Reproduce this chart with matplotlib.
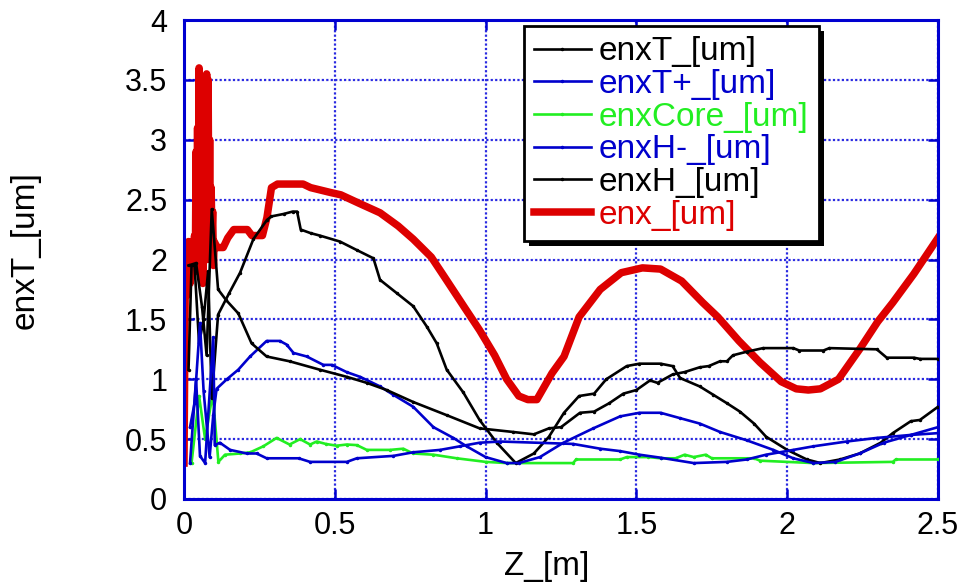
import matplotlib
matplotlib.use("Agg")
import matplotlib.pyplot as plt
from matplotlib.patches import Rectangle
from matplotlib.transforms import IdentityTransform

plt.rcParams['font.family'] = ['Liberation Sans', 'DejaVu Sans']

# ---------------- data ----------------
enx_z = [0.0, 0.004, 0.01, 0.015, 0.02, 0.025, 0.03, 0.035, 0.0375, 0.04, 0.0425,
         0.045, 0.0475, 0.05, 0.0525, 0.055, 0.0575, 0.06, 0.0625, 0.065, 0.0675,
         0.07, 0.0725, 0.075, 0.0775, 0.08, 0.0825, 0.085, 0.0875, 0.09, 0.0925,
         0.095, 0.0975, 0.10, 0.11, 0.13, 0.145,
         0.165, 0.21, 0.225, 0.26, 0.275, 0.29, 0.31, 0.395, 0.42, 0.485, 0.52, 0.58,
         0.65, 0.71, 0.76, 0.82, 0.87, 0.93, 0.98, 1.03, 1.07, 1.11, 1.14, 1.17, 1.22,
         1.26, 1.31, 1.38, 1.45, 1.52, 1.58, 1.65, 1.72, 1.77, 1.84, 1.91, 1.98, 2.03,
         2.07, 2.11, 2.17, 2.24, 2.3, 2.35, 2.42, 2.5]
enx_v = [0.3, 1.75, 1.7, 2.15, 1.8, 2.15, 1.9, 2.2, 1.9, 2.9, 2.0, 3.1, 2.1, 3.6,
         2.0, 3.4, 1.85, 3.0, 1.8, 3.2, 2.0, 2.8, 2.1, 3.55, 2.0, 3.5, 2.1, 3.0,
         2.0, 2.6, 2.2, 2.4, 1.95, 2.15, 2.1, 2.1, 2.18,
         2.25, 2.25, 2.2, 2.2,
         2.35, 2.6, 2.63, 2.63, 2.6, 2.56, 2.54, 2.47, 2.39, 2.28, 2.17, 2.02, 1.83,
         1.6, 1.41, 1.2, 1.0, 0.86, 0.83, 0.83, 1.05, 1.19, 1.52, 1.75, 1.89, 1.93,
         1.92, 1.82, 1.64, 1.52, 1.32, 1.14, 0.98, 0.92, 0.91, 0.92, 1.0, 1.25, 1.48,
         1.64, 1.88, 2.18]

enxT_z = [0.015, 0.025, 0.035, 0.05, 0.065, 0.08, 0.092, 0.113, 0.15, 0.186, 0.23,
          0.275, 0.29, 0.33, 0.36, 0.375, 0.387, 0.42, 0.45, 0.517, 0.572, 0.628, 0.65,
          0.705, 0.76, 0.805, 0.838, 0.871, 0.926, 0.98, 1.037, 1.10, 1.16, 1.21, 1.26,
          1.31, 1.36, 1.40, 1.468, 1.51, 1.58, 1.62, 1.645, 1.71, 1.755, 1.80, 1.843,
          1.89, 1.93, 2.0, 2.065, 2.11, 2.175, 2.24, 2.31, 2.35, 2.41, 2.44, 2.5]
enxT_v = [1.08, 1.95, 1.95, 1.3, 1.5, 1.9, 0.84, 1.54, 1.72, 1.89, 2.17, 2.33, 2.36,
          2.38, 2.4, 2.4, 2.25, 2.22, 2.2, 2.15, 2.08, 2.01, 1.83, 1.72, 1.61, 1.44,
          1.30, 1.08, 0.89, 0.66, 0.47, 0.30, 0.38, 0.52, 0.72, 0.86, 0.88, 1.0, 1.11,
          1.13, 1.13, 1.11, 1.01, 0.94, 0.87, 0.80, 0.73, 0.63, 0.52, 0.41, 0.33, 0.30,
          0.33, 0.38, 0.47, 0.55, 0.65, 0.66, 0.77]

enxTp_z = [0.02, 0.035, 0.053, 0.065, 0.085, 0.097, 0.108, 0.142, 0.18, 0.219, 0.274,
           0.318, 0.34, 0.363, 0.407, 0.462, 0.49, 0.539, 0.584, 0.65, 0.694, 0.76,
           0.827, 0.893, 0.937, 1.0, 1.07, 1.11, 1.18, 1.258, 1.357, 1.446, 1.51, 1.58,
           1.645, 1.71, 1.777, 1.866, 1.954, 2.02, 2.087, 2.16, 2.24, 2.32, 2.41, 2.5]
enxTp_v = [0.6, 0.8, 1.47, 0.9, 0.35, 0.7, 0.92, 1.0, 1.08, 1.19, 1.32, 1.32, 1.29,
           1.22, 1.19, 1.12, 1.12, 1.06, 1.02, 0.94, 0.87, 0.77, 0.60, 0.51, 0.44,
           0.35, 0.30, 0.30, 0.35, 0.47, 0.59, 0.69, 0.72, 0.72, 0.675, 0.63, 0.56,
           0.49, 0.41, 0.34, 0.30, 0.31, 0.38, 0.47, 0.535, 0.60]

enxCore_z = [0.025, 0.05, 0.07, 0.095, 0.114, 0.136, 0.186, 0.22, 0.263, 0.307, 0.35,
             0.385, 0.418, 0.44, 0.47, 0.506, 0.54, 0.573, 0.606, 0.683, 0.727, 0.76,
             0.827, 0.904, 1.0, 1.07, 1.29, 1.30, 1.446, 1.468, 1.54, 1.58, 1.63, 1.66,
             1.69, 1.73, 1.75, 1.89, 1.91, 2.087, 2.35, 2.36, 2.5]
enxCore_v = [0.30, 0.86, 0.5, 0.88, 0.31, 0.37, 0.38, 0.39, 0.44, 0.51, 0.455, 0.50,
             0.455, 0.48, 0.46, 0.445, 0.455, 0.45, 0.41, 0.41, 0.42, 0.38, 0.37, 0.34,
             0.31, 0.30, 0.30, 0.33, 0.33, 0.35, 0.35, 0.34, 0.34, 0.37, 0.35, 0.37,
             0.34, 0.34, 0.32, 0.30, 0.31, 0.33, 0.33]

enxHm_z = [0.02, 0.04, 0.053, 0.07, 0.097, 0.102, 0.119, 0.153, 0.208, 0.241, 0.274,
           0.38, 0.418, 0.54, 0.573, 0.694, 0.76, 0.849, 0.915, 0.98, 1.048, 1.29,
           1.38, 1.446, 1.51, 1.58, 1.69, 1.8, 1.866, 1.93, 2.02, 2.087, 2.197, 2.297,
           2.41, 2.5]
enxHm_v = [0.3, 1.0, 0.36, 0.3, 1.35, 0.45, 0.47, 0.41, 0.38, 0.38, 0.34, 0.34, 0.31,
           0.31, 0.34, 0.36, 0.39, 0.41, 0.44, 0.47, 0.48, 0.46, 0.42, 0.40, 0.37,
           0.345, 0.30, 0.31, 0.33, 0.37, 0.41, 0.44, 0.48, 0.51, 0.535, 0.55]

enxH_z = [0.015, 0.04, 0.06, 0.075, 0.092, 0.113, 0.14, 0.18, 0.224, 0.274, 0.35, 0.45,
          0.54, 0.606, 0.672, 0.76, 0.871, 0.98, 1.09, 1.16, 1.21, 1.25, 1.313, 1.36,
          1.41, 1.457, 1.50, 1.545, 1.57, 1.62, 1.66, 1.71, 1.74, 1.777, 1.80, 1.82,
          1.866, 1.92, 2.02, 2.04, 2.12, 2.14, 2.297, 2.33, 2.42, 2.44, 2.5]
enxH_v = [1.95, 1.97, 1.6, 1.2, 2.42, 1.75, 1.66, 1.55, 1.30, 1.19, 1.15, 1.08, 1.02,
          0.97, 0.91, 0.81, 0.70, 0.59, 0.56, 0.54, 0.59, 0.60, 0.72, 0.73, 0.80, 0.88,
          0.91, 0.99, 0.97, 1.04, 1.06, 1.10, 1.11, 1.15, 1.15, 1.20, 1.23, 1.26, 1.26,
          1.24, 1.24, 1.26, 1.25, 1.18, 1.18, 1.17, 1.17]

x_ticks = [0, 0.5, 1, 1.5, 2, 2.5]
x_tick_labels = ['0', '0.5', '1', '1.5', '2', '2.5']
y_ticks = [0, 0.5, 1, 1.5, 2, 2.5, 3, 3.5, 4]
y_tick_labels = ['0', '0.5', '1', '1.5', '2', '2.5', '3', '3.5', '4']

# ---------------- styles ----------------
BLACK = '#000000'
BLUE = '#0000cc'
GREEN = '#22ee22'
RED = '#dd0000'
AXBLUE = '#0000d0'

fig = plt.figure(figsize=(9.63, 5.87), dpi=100)
ax = fig.add_axes([184/963, 88/587, 754/963, 479/587])

lw = 1.9
ax.plot(enx_z, enx_v, color=RED, lw=5.4, marker='.', ms=2, label='enx_[um]', zorder=2)
ax.plot(enxT_z, enxT_v, color=BLACK, lw=lw, marker='.', ms=3, label='enxT_[um]', zorder=4)
ax.plot(enxTp_z, enxTp_v, color=BLUE, lw=lw, marker='.', ms=3, label='enxT+_[um]', zorder=4)
ax.plot(enxCore_z, enxCore_v, color=GREEN, lw=lw, marker='.', ms=3, label='enxCore_[um]', zorder=3)
ax.plot(enxHm_z, enxHm_v, color=BLUE, lw=lw, marker='.', ms=3, label='enxH-_[um]', zorder=4)
ax.plot(enxH_z, enxH_v, color=BLACK, lw=lw, marker='.', ms=3, label='enxH_[um]', zorder=4)

ax.set_xlim(0, 2.5)
ax.set_ylim(0, 4)
ax.set_xticks(x_ticks)
ax.set_xticklabels(x_tick_labels)
ax.set_yticks(y_ticks)
ax.set_yticklabels(y_tick_labels)

ax.grid(True, color='#2a2ae0', lw=1.6, linestyle=(0, (1, 1)), zorder=1)
ax.set_axisbelow(True)
for s in ax.spines.values():
    s.set_color(AXBLUE)
    s.set_linewidth(2.2)
ax.tick_params(axis='both', which='major', direction='in', length=7, width=1.8,
               color=AXBLUE, labelcolor='black', labelsize=22,
               top=True, right=True)
ax.tick_params(axis='y', pad=12)
ax.tick_params(axis='x', pad=9)

ax.set_xlabel('Z_[m]', fontsize=24)
ax.set_ylabel('enxT_[um]', fontsize=24)
ax.xaxis.set_label_coords(0.481, -0.108)
ax.yaxis.set_label_coords(-0.19, 0.52)

# legend in reference order
handles, labels = ax.get_legend_handles_labels()
order = ['enxT_[um]', 'enxT+_[um]', 'enxCore_[um]', 'enxH-_[um]', 'enxH_[um]', 'enx_[um]']
hmap = dict(zip(labels, handles))
colors = {'enxT_[um]': BLACK, 'enxT+_[um]': BLUE, 'enxCore_[um]': GREEN,
          'enxH-_[um]': BLUE, 'enxH_[um]': BLACK, 'enx_[um]': RED}
leg = ax.legend([hmap[k] for k in order], order, loc='upper left',
                bbox_to_anchor=(0.451, 0.987), borderaxespad=0, fontsize=24,
                fancybox=False, framealpha=1, edgecolor='black', numpoints=1,
                handlelength=1.7, handletextpad=0.25, labelspacing=0.05,
                borderpad=0.3)
leg.get_frame().set_linewidth(2)
leg.set_zorder(10)
for t in leg.get_texts():
    t.set_color(colors[t.get_text()])

fig.canvas.draw()
bb = leg.get_window_extent()
shadow = Rectangle((bb.x0 + 5, bb.y0 - 5), bb.width, bb.height,
                   transform=IdentityTransform(), facecolor='black',
                   edgecolor='none', zorder=9, clip_on=False)
ax.add_artist(shadow)
shadow.set_transform(IdentityTransform())

fig.savefig('out.png', dpi=100)
